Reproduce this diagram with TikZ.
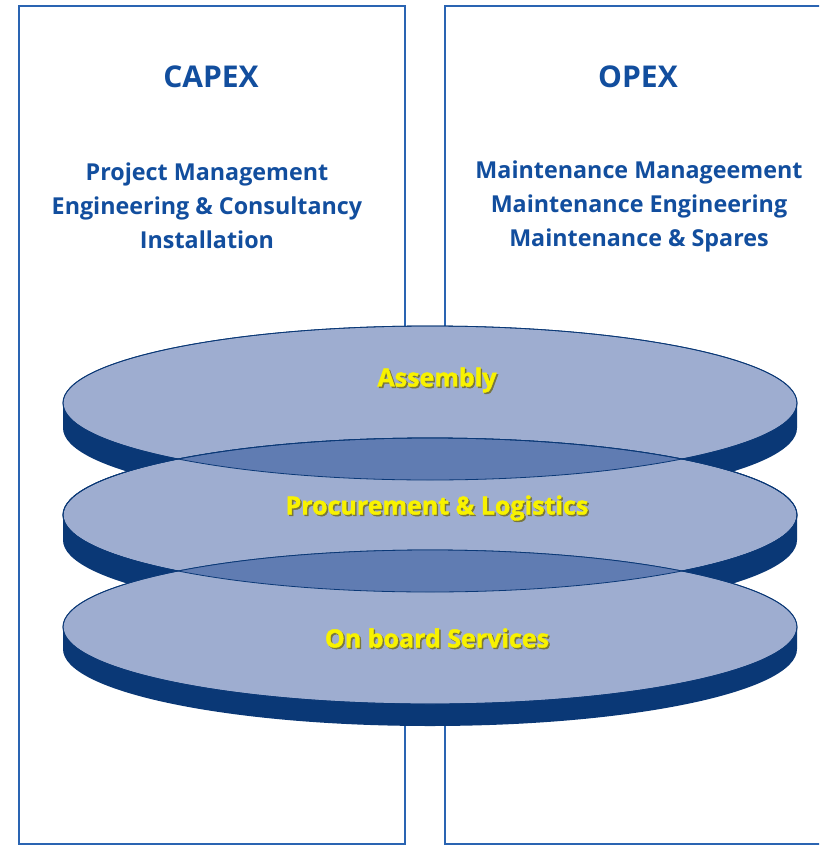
\documentclass[tikz,border=0pt]{standalone}
\usepackage{fontspec}
\setmainfont{Open Sans}
\newfontfamily\heavyfont[FakeBold=1.6]{Open Sans Bold}
\definecolor{boxblue}{RGB}{42,100,178}
\definecolor{titleblue}{RGB}{18,78,158}
\definecolor{disklight}{RGB}{158,173,208}
\definecolor{diskdark}{RGB}{10,56,118}
\definecolor{disklens}{RGB}{96,124,178}
\definecolor{labelyellow}{RGB}{248,242,0}
\definecolor{labelshade}{RGB}{120,118,60}
\tikzset{
  column/.style={draw=boxblue, line width=2pt},
  title/.style={text=titleblue, font=\fontsize{30}{34}\selectfont\bfseries},
  items/.style={text=titleblue, font=\fontsize{23.3}{34}\selectfont\bfseries, align=center},
  disktop/.style={fill=disklight, draw=diskdark, line width=0.8pt},
  diskside/.style={fill=diskdark},
  disklabel/.style={text=labelyellow, font=\fontsize{25}{30}\heavyfont},
  labelshadow/.style={text=labelshade, font=\fontsize{25}{30}\heavyfont}
}
\begin{document}
\begin{tikzpicture}[x=1pt, y=-1pt]
  \clip (0,0) rectangle (819,845);
  \fill[white] (0,0) rectangle (819,845);
  % the two columns
  \draw[column] (18.5,6) rectangle (405,844);
  \draw[column] (445,6) rectangle (840,844);
  \node[title] (capex) at (211,77) {CAPEX};
  \node[title] (opex) at (638,77) {OPEX};
  \node[items] (capexitems) at (207,206) {Project Management\\Engineering \& Consultancy\\Installation};
  \node[items] (opexitems) at (639,206) {Maintenance Manageement\\Maintenance Engineering\\Maintenance \& Spares};
  % top disk
  \fill[diskside] (63,403) -- (63,428) arc[start angle=180, end angle=0, x radius=367, y radius=77] -- (797,403) -- cycle;
  \draw[disktop] (430,403) ellipse[x radius=367, y radius=77];
  % middle disk
  \fill[diskside] (63,515) -- (63,540) arc[start angle=180, end angle=0, x radius=367, y radius=77] -- (797,515) -- cycle;
  \draw[disktop] (430,515) ellipse[x radius=367, y radius=77];
  \begin{scope}
    \clip (430,403) ellipse[x radius=367, y radius=77];
    \fill[disklens] (430,515) ellipse[x radius=367, y radius=77];
  \end{scope}
  \draw[diskdark, line width=0.8pt] (430,403) ellipse[x radius=367, y radius=77];
  \draw[diskdark, line width=0.8pt] (430,515) ellipse[x radius=367, y radius=77];
  % bottom disk
  \fill[diskside] (63,627) -- (63,649) arc[start angle=180, end angle=0, x radius=367, y radius=77] -- (797,627) -- cycle;
  \draw[disktop] (430,627) ellipse[x radius=367, y radius=77];
  \begin{scope}
    \clip (430,515) ellipse[x radius=367, y radius=77];
    \fill[disklens] (430,627) ellipse[x radius=367, y radius=77];
  \end{scope}
  \draw[diskdark, line width=0.8pt] (430,515) ellipse[x radius=367, y radius=77];
  \draw[diskdark, line width=0.8pt] (430,627) ellipse[x radius=367, y radius=77];
  % disk labels
  \node[labelshadow] at (438.5,381.5) {Assembly};
  \node[disklabel] (assembly) at (437,380) {Assembly};
  \node[labelshadow] at (438.5,509.5) {Procurement \& Logistics};
  \node[disklabel] (procurement) at (437,508) {Procurement \& Logistics};
  \node[labelshadow] at (438.5,639.5) {On board Services};
  \node[disklabel] (onboard) at (437,638) {On board Services};
\end{tikzpicture}
\end{document}
